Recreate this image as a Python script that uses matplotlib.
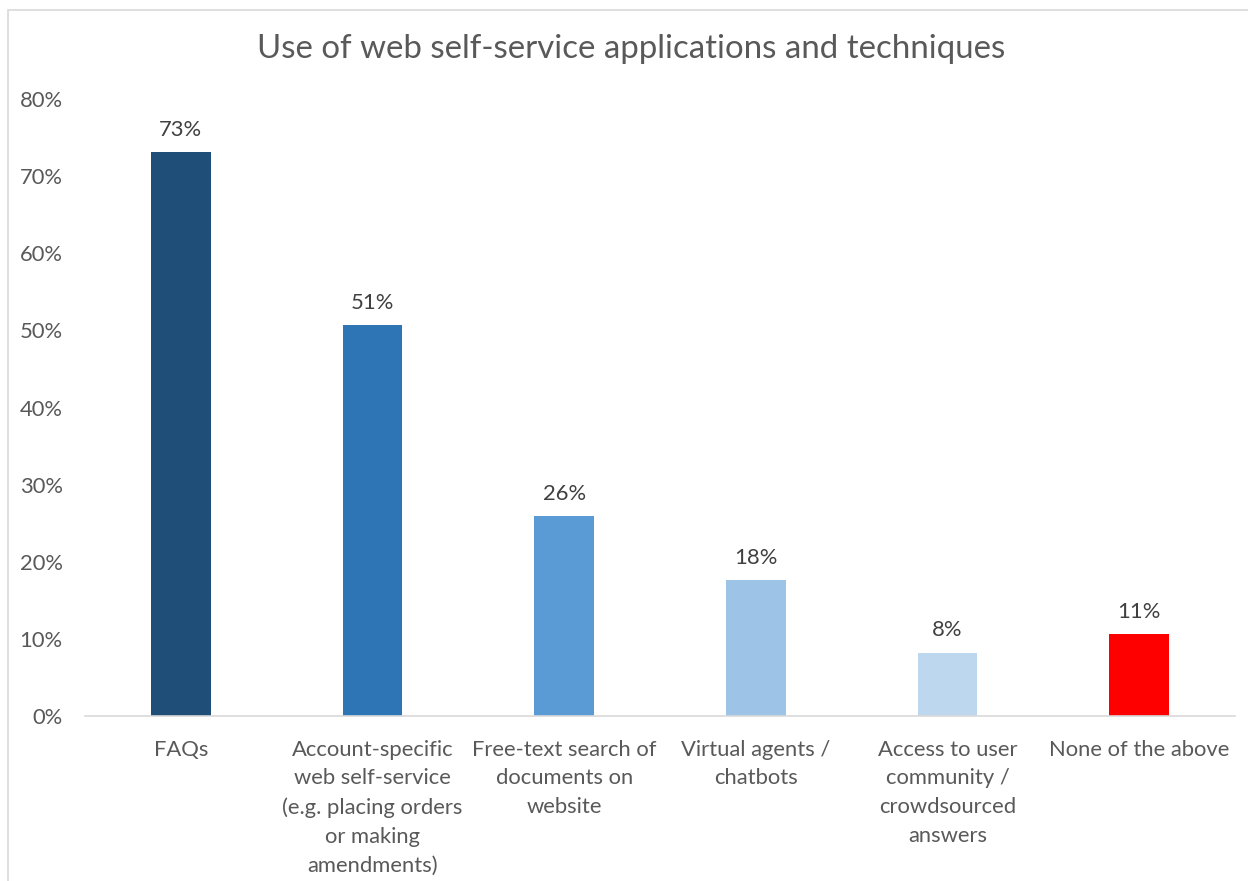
import matplotlib
matplotlib.use("Agg")
import matplotlib.pyplot as plt
from matplotlib.patches import Rectangle
from matplotlib.ticker import PercentFormatter

categories = [
    "FAQs",
    "Account-specific\nweb self-service\n(e.g. placing orders\nor making\namendments)",
    "Free-text search of\ndocuments on\nwebsite",
    "Virtual agents /\nchatbots",
    "Access to user\ncommunity /\ncrowdsourced\nanswers",
    "None of the above",
]
values = [73.1, 50.7, 25.9, 17.6, 8.2, 10.6]
colors = ["#1F4E79", "#2E75B6", "#5B9BD5", "#9DC3E6", "#BDD7EE", "#FF0000"]
yticks = [0, 10, 20, 30, 40, 50, 60, 70, 80]

plt.rcParams["font.family"] = ["Lato", "DejaVu Sans"]

fig = plt.figure(figsize=(12.48, 8.81), dpi=100)
ax = fig.add_axes([85 / 1248, 165 / 881, 1150 / 1248, 617 / 881])

x = range(len(categories))
bars = ax.bar(x, values, width=0.31, color=colors)

for b, v in zip(bars, values):
    ax.text(b.get_x() + b.get_width() / 2, v + 1.6, f"{round(v)}%",
            ha="center", va="bottom", fontsize=15.8, color="#404040")

ax.set_xlim(-0.5, len(categories) - 0.5)
ax.set_ylim(0, 80)
ax.set_yticks(yticks)
ax.yaxis.set_major_formatter(PercentFormatter(decimals=0))
ax.set_xticks(list(x))
ax.set_xticklabels(categories, fontsize=15.8, color="#595959", linespacing=1.55, va="top")
ax.tick_params(axis="y", length=0, labelsize=15.8, labelcolor="#595959", pad=16)
ax.tick_params(axis="x", length=0, pad=17)

for s in ["top", "right", "left"]:
    ax.spines[s].set_visible(False)
ax.spines["bottom"].set_color("#D9D9D9")
ax.spines["bottom"].set_linewidth(1.2)

fig.text(631 / 1248, 1 - 49 / 881, "Use of web self-service applications and techniques",
         ha="center", va="center", fontsize=23.8, color="#595959")

fig.patches.append(Rectangle((8 / 1248, -0.01), 1.02, 1 - 10 / 881 + 0.01,
                             transform=fig.transFigure, fill=False,
                             edgecolor="#D9D9D9", linewidth=1.2))

fig.savefig("out.png", dpi=100)
